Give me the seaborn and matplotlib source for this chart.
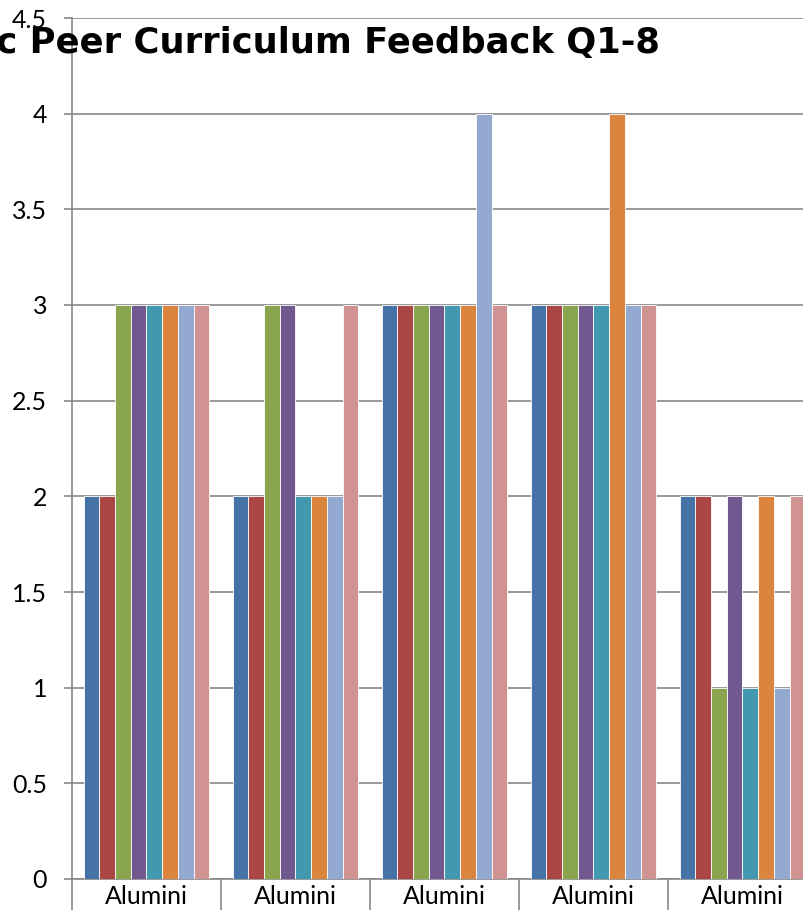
import matplotlib
matplotlib.use("Agg")
import matplotlib.pyplot as plt
import pandas as pd
import seaborn as sns

groups = ["Alumini", "Alumini", "Alumini", "Alumini", "Alumini"]
questions = ["Q1", "Q2", "Q3", "Q4", "Q5", "Q6", "Q7", "Q8"]
scores = [
    [2, 2, 3, 3, 3, 3, 3, 3],
    [2, 2, 3, 3, 2, 2, 2, 3],
    [3, 3, 3, 3, 3, 3, 4, 3],
    [3, 3, 3, 3, 3, 4, 3, 3],
    [2, 2, 1, 2, 1, 2, 1, 2],
]
yticks = [0, 0.5, 1, 1.5, 2, 2.5, 3, 3.5, 4, 4.5]
colors = ["#4572A7", "#AA4643", "#89A54E", "#71588F",
          "#4198AF", "#DB843D", "#93A9CF", "#D19392"]
title = "Academic Peer Curriculum Feedback Q1-8"

rows = []
for gi, vals in enumerate(scores):
    for q, v in zip(questions, vals):
        rows.append({"group": gi, "question": q, "score": v})
df = pd.DataFrame(rows)

sns.set_style("white")
plt.rcParams["font.family"] = ["Lato", "DejaVu Sans"]
plt.rcParams["text.color"] = "black"
plt.rcParams["xtick.labelcolor"] = "black"
plt.rcParams["ytick.labelcolor"] = "black"

fig = plt.figure(figsize=(8.04, 9.10), dpi=100)
ax = fig.add_axes([72 / 804, 31 / 910, (817 - 72) / 804, (879 - 18) / 910])

sns.barplot(data=df, x="group", y="score", hue="question", palette=colors,
            saturation=1, width=8 / 9.5, edgecolor="white", linewidth=0.6,
            legend=False, ax=ax, zorder=3)

ax.set_ylim(0, 4.5)
ax.set_xlim(-0.5, 4.5)
ax.set_yticks(yticks)
ax.set_yticklabels([f"{t:g}" for t in yticks], fontsize=18)
ax.set_xticks(range(len(groups)))
ax.set_xticklabels(groups, fontsize=18)
ax.set_xticks([i - 0.5 for i in range(len(groups) + 1)], minor=True)
ax.tick_params(axis="x", which="major", length=0, pad=4)
ax.tick_params(axis="x", which="minor", length=23, width=1.2, color="#878787",
               direction="out", bottom=True)
ax.tick_params(axis="y", length=6, width=1.2, color="#878787", pad=12, left=True)
ax.yaxis.grid(True, color="#878787", linewidth=1.2, zorder=0)
ax.set_axisbelow(True)
for side in ["top", "right"]:
    ax.spines[side].set_visible(False)
for side in ["left", "bottom"]:
    ax.spines[side].set_color("#878787")
    ax.spines[side].set_linewidth(1.2)
ax.set_xlabel("")
ax.set_ylabel("")

# title is wider than the visible canvas and cut at the left, as in the source
fig.text(660 / 804, 1 - 53 / 910, title, ha="right", va="baseline",
         fontsize=25.5, fontweight="bold", color="black", family=["DejaVu Sans"])

fig.savefig("out.png", dpi=100)
